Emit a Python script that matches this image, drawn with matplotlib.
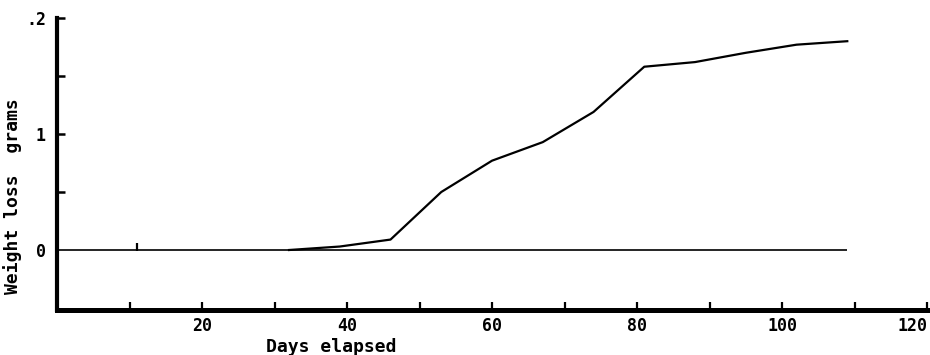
import numpy as np
import matplotlib
matplotlib.use("Agg")
from matplotlib import pyplot as plt

# weight loss curve (days, grams)
days = [32, 39, 46, 53, 60, 67, 74, 81, 88, 95, 102, 109]
loss = [0.0, 0.003, 0.009, 0.05, 0.077, 0.093, 0.119, 0.158, 0.162, 0.170, 0.177, 0.180]
# flat control line at zero
ctrl_days = [0, 109]
ctrl_loss = [0.0, 0.0]
mark_day = [11]  # little stroke on the zero line
mark_val = [0.003]

xticks = list(range(10, 121, 10))
xlabels = [str(t) if t % 20 == 0 else "" for t in xticks]
yticks = [0.0, 0.05, 0.1, 0.15, 0.2]
ylabels = ["0", "", "1", "", ".2"]

font = "DejaVu Sans Mono"

fig = plt.figure(figsize=(9.3, 3.55), dpi=100)
ax = fig.add_axes([0.0613, 0.1268, 0.9355, 0.8225])

ax.plot(ctrl_days, ctrl_loss, color="black", lw=1.2, solid_capstyle="butt")
ax.plot(days, loss, color="black", lw=1.6)
ax.plot(mark_day, mark_val, color="black", marker="|", ms=6, mew=1.6, ls="none")

ax.set_xlim(0, 120)
ax.set_ylim(-0.0517, 0.2)

for s in ["top", "right"]:
    ax.spines[s].set_visible(False)
ax.spines["left"].set_linewidth(3.0)
ax.spines["bottom"].set_linewidth(3.6)

ax.set_xticks(xticks)
ax.set_xticklabels(xlabels, fontfamily=font, fontweight="bold", fontsize=12)
ax.get_xticklabels()[-1].set_horizontalalignment("right")
ax.set_yticks(yticks)
ax.set_yticklabels(ylabels, fontfamily=font, fontweight="bold", fontsize=12)
ax.tick_params(axis="x", direction="in", length=6, width=1.6, pad=5)
ax.tick_params(axis="y", direction="in", length=6, width=1.8, pad=8)
ax.yaxis.get_major_ticks()[0].tick1line.set_visible(False)

ax.set_xlabel("Days elapsed", fontfamily=font, fontweight="bold", fontsize=13)
ax.xaxis.set_label_coords(0.315, -0.095)
ax.set_ylabel("Weight loss  grams", fontfamily=font, fontweight="bold", fontsize=13)
ax.yaxis.set_label_coords(-0.040, 0.39)

plt.savefig("out.png", dpi=100)
